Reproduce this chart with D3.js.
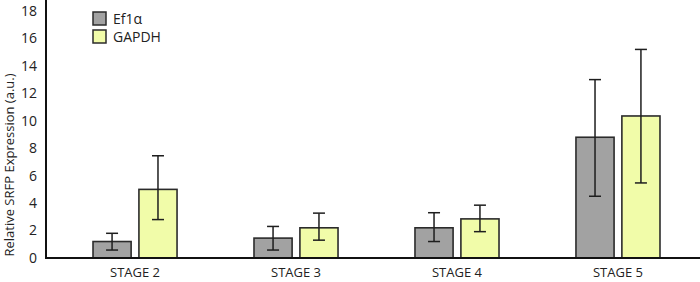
<!DOCTYPE html>
<html>
<head>
<meta charset="utf-8">
<script src="https://cdn.jsdelivr.net/npm/d3@7"></script>
<style>
	body { margin: 0; background: #fff; }
	svg text { font-family: "Open Sans", "DejaVu Sans", sans-serif; fill: #222; }
</style>
</head>
<body>
<div id="chart"></div>
<script>
'use strict';

// values
var stages = ['STAGE 2', 'STAGE 3', 'STAGE 4', 'STAGE 5'];
var seriesNames = ['Ef1\u03b1', 'GAPDH'];
var ef1aMean = [1.2, 1.45, 2.2, 8.8];
var ef1aLow = [0.58, 0.58, 1.2, 4.5];
var ef1aHigh = [1.8, 2.3, 3.3, 13.0];
var gapdhMean = [5.0, 2.2, 2.85, 10.35];
var gapdhLow = [2.8, 1.3, 1.92, 5.47];
var gapdhHigh = [7.45, 3.27, 3.85, 15.2];
var yTicks = [0, 2, 4, 6, 8, 10, 12, 14, 16, 18];
var colors = ['#a2a2a2', '#f1fca9'];

var width = 700;
var height = 282;
var margin = {top: 0, right: 0, bottom: 24, left: 46};

var svg = d3.select('#chart').append('svg')
	.attr('width', width)
	.attr('height', height);

var y = d3.scaleLinear()
	.domain([0, 18])
	.range([258, 11]);

var x = d3.scaleBand()
	.domain(stages)
	.range([margin.left, 707])
	.paddingInner(0.478)
	.paddingOuter(0.292);

var sub = d3.scaleBand()
	.domain(seriesNames)
	.range([0, x.bandwidth()])
	.paddingInner(0.17);

var rows = [];
stages.forEach(function(s, i){
	rows.push({stage: s, series: seriesNames[0], v: ef1aMean[i], lo: ef1aLow[i], hi: ef1aHigh[i], c: colors[0]});
	rows.push({stage: s, series: seriesNames[1], v: gapdhMean[i], lo: gapdhLow[i], hi: gapdhHigh[i], c: colors[1]});
});

// bars
svg.append('g').selectAll('rect')
	.data(rows)
	.enter()
	.append('rect')
	.attr('x', function(d){ return x(d.stage) + sub(d.series); })
	.attr('y', function(d){ return y(d.v); })
	.attr('width', sub.bandwidth())
	.attr('height', function(d){ return y(0) - y(d.v); })
	.attr('fill', function(d){ return d.c; })
	.attr('stroke', '#2b2b2b')
	.attr('stroke-width', 1.6);

// error bars
var err = svg.append('g')
	.attr('stroke', '#1e1e1e')
	.attr('stroke-width', 1.5)
	.selectAll('g')
	.data(rows)
	.enter()
	.append('g')
	.attr('transform', function(d){ return 'translate(' + (x(d.stage) + sub(d.series) + sub.bandwidth() / 2) + ',0)'; });

err.append('line')
	.attr('y1', function(d){ return y(d.lo); })
	.attr('y2', function(d){ return y(d.hi); });
err.append('line')
	.attr('x1', -6).attr('x2', 6)
	.attr('y1', function(d){ return y(d.hi); })
	.attr('y2', function(d){ return y(d.hi); });
err.append('line')
	.attr('x1', -6).attr('x2', 6)
	.attr('y1', function(d){ return y(d.lo); })
	.attr('y2', function(d){ return y(d.lo); });

// axes
svg.append('line')
	.attr('x1', margin.left).attr('x2', margin.left)
	.attr('y1', 0).attr('y2', y(0) + 1)
	.attr('stroke', '#111').attr('stroke-width', 2);
svg.append('line')
	.attr('x1', margin.left - 1).attr('x2', width)
	.attr('y1', y(0)).attr('y2', y(0))
	.attr('stroke', '#111').attr('stroke-width', 2);

svg.append('g').selectAll('text')
	.data(yTicks)
	.enter()
	.append('text')
	.attr('x', 37)
	.attr('y', function(d){ return y(d); })
	.attr('dy', '0.35em')
	.attr('text-anchor', 'end')
	.style('font-size', '14px')
	.text(function(d){ return d; });

svg.append('g').selectAll('text')
	.data(stages)
	.enter()
	.append('text')
	.attr('x', function(d){ return x(d) + x.bandwidth() / 2; })
	.attr('y', 277)
	.attr('text-anchor', 'middle')
	.style('font-size', '13px')
	.text(function(d){ return d; });

svg.append('text')
	.attr('transform', 'translate(14,' + 165 + ') rotate(-90)')
	.attr('text-anchor', 'middle')
	.style('font-size', '13px')
	.text('Relative SRFP Expression (a.u.)');

// legend
var legend = svg.append('g').selectAll('g')
	.data(seriesNames)
	.enter()
	.append('g')
	.attr('transform', function(d, i){ return 'translate(93,' + (12 + i * 18) + ')'; });

legend.append('rect')
	.attr('width', 13)
	.attr('height', 13)
	.attr('fill', function(d, i){ return colors[i]; })
	.attr('stroke', '#2b2b2b')
	.attr('stroke-width', 1.5);

legend.append('text')
	.attr('x', 20)
	.attr('y', 7)
	.attr('dy', '0.35em')
	.style('font-size', '14px')
	.text(function(d){ return d; });
</script>
</body>
</html>
